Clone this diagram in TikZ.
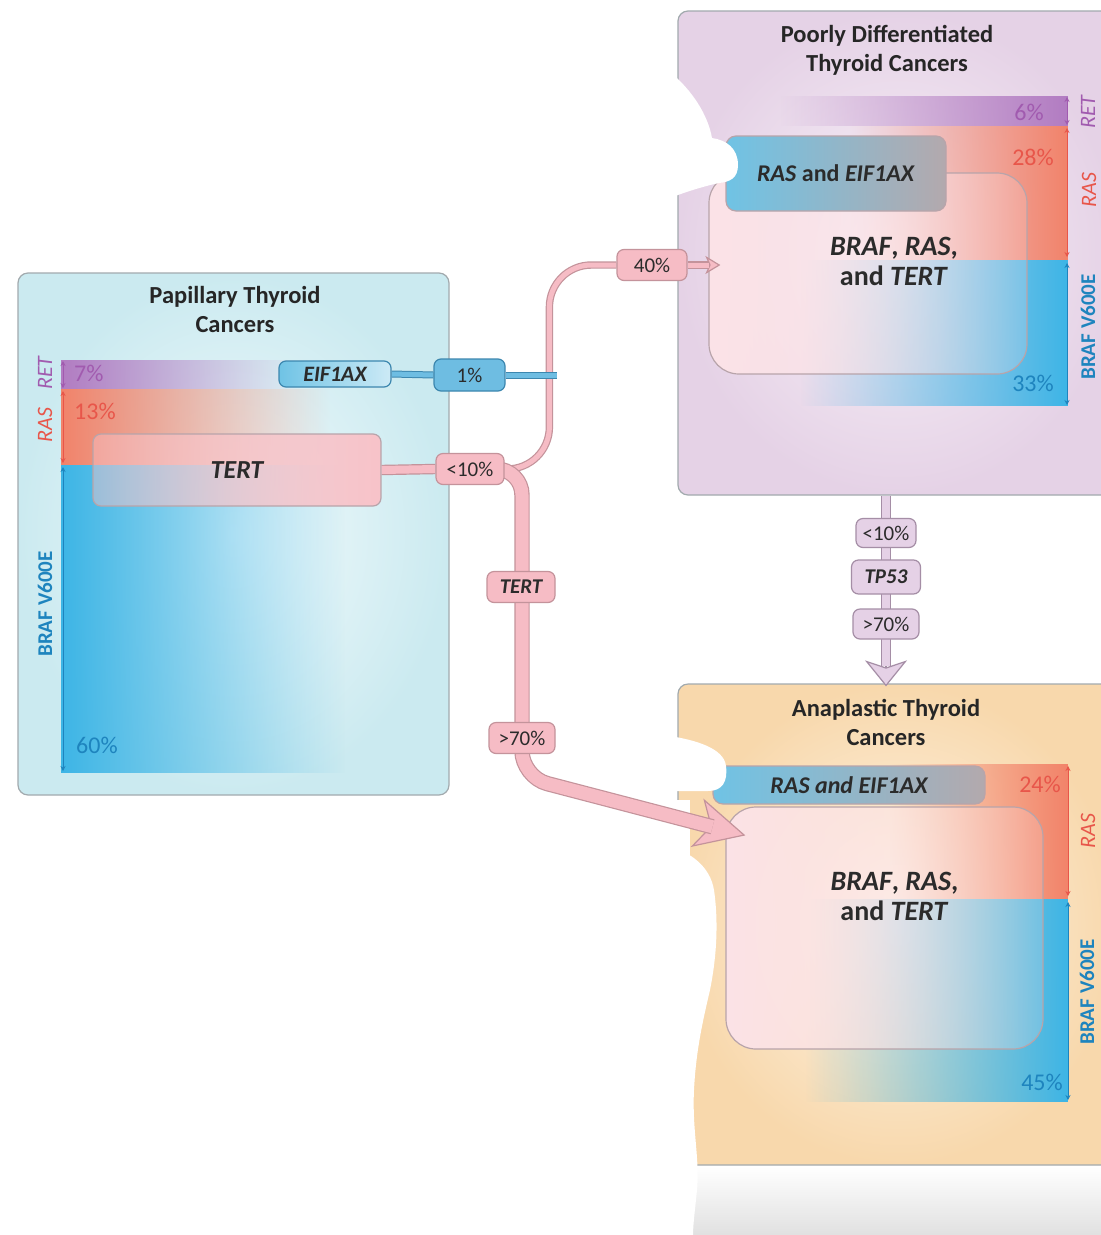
\documentclass[tikz,border=0pt]{standalone}
\usepackage{fontspec}
\setmainfont{Carlito}
\usetikzlibrary{arrows.meta,calc,fadings}

\pgfdeclarelayer{back}
\pgfdeclarelayer{conn}
\pgfsetlayers{back,conn,main}

\definecolor{boxLine}{HTML}{A2AAAE}
\definecolor{titleC}{HTML}{262626}
\definecolor{retC}{HTML}{B27CC2}
\definecolor{retT}{HTML}{A15BAF}
\definecolor{rasC}{HTML}{F2836A}
\definecolor{rasT}{HTML}{E8564A}
\definecolor{brafC}{HTML}{3DB5E6}
\definecolor{brafT}{HTML}{1E84BE}
\definecolor{pinkFill}{HTML}{F6BCC5}
\definecolor{pinkLine}{HTML}{C4939B}
\definecolor{purpFill}{HTML}{E5D1E6}
\definecolor{purpLine}{HTML}{A58EA6}
\definecolor{blueFill}{HTML}{6EBDE2}
\definecolor{blueLine}{HTML}{3C87AF}
\definecolor{coreC}{HTML}{FCE3E7}
\definecolor{coreLine}{HTML}{B8A4AA}
\definecolor{tertC}{HTML}{F8C3C9}
\definecolor{eifL}{HTML}{6FC3E5}
\definecolor{eifR}{HTML}{B3A9AD}
\definecolor{ptcIn}{HTML}{F4FBFC}
\definecolor{ptcOut}{HTML}{CBEAF0}
\definecolor{pdIn}{HTML}{F9F3F9}
\definecolor{pdOut}{HTML}{E5D2E6}
\definecolor{atIn}{HTML}{FEF6EA}
\definecolor{atOut}{HTML}{F8D8AC}
\definecolor{pillT}{HTML}{2B2B2B}

\tikzfading[name=fadeoutR, left color=transparent!0, right color=transparent!100]
\tikzfading[name=fadeinR, left color=transparent!100, right color=transparent!0]
\tikzfading[name=glassR, left color=transparent!0, right color=transparent!80]
\tikzfading[name=glassL, left color=transparent!55, right color=transparent!0]

\tikzset{
  bigbox/.style={draw=boxLine, line width=1.2pt, rounded corners=10pt, inner sep=0pt},
  corebox/.style={draw=coreLine, line width=1.2pt, rounded corners=30pt, inner sep=0pt,
    path picture={\fill[coreC, path fading=glassR] (path picture bounding box.south west) rectangle (path picture bounding box.north east);}},
  tertbox/.style={draw=coreLine, line width=1.2pt, rounded corners=8pt, inner sep=0pt, text=pillT,
    font=\fontsize{26}{26}\selectfont\bfseries\itshape,
    path picture={\fill[tertC, path fading=glassL] (path picture bounding box.south west) rectangle (path picture bounding box.north east);}},
  eifbox/.style={draw=coreLine, line width=1.2pt, rounded corners=10pt, left color=eifL, right color=eifR,
    text=pillT, font=\fontsize{24}{24}\selectfont\bfseries},
  coretxt/.style={align=center, text=pillT, font=\fontsize{28}{30}\selectfont\bfseries},
  title/.style={align=center, text=titleC, font=\fontsize{24.5}{29}\selectfont\bfseries},
  pct/.style={inner sep=0pt, font=\fontsize{24}{24}\selectfont},
  gene/.style={inner sep=0pt, rotate=90, font=\fontsize{22}{22}\selectfont\itshape},
  braflbl/.style={inner sep=0pt, rotate=90, text=brafT, font=\fontsize{21}{21}\selectfont\bfseries},
  span/.style={line width=1pt, {Stealth[length=5pt,width=5pt]}-{Stealth[length=5pt,width=5pt]}},
  pinkpill/.style={draw=pinkLine, fill=pinkFill, line width=1.2pt, rounded corners=7pt, minimum height=31pt,
    inner sep=2pt, text=pillT, font=\fontsize{21}{21}\selectfont},
  purppill/.style={pinkpill, draw=purpLine, fill=purpFill, minimum height=30pt},
  bluepill/.style={pinkpill, draw=blueLine, fill=blueFill, minimum height=32pt},
  eifpill/.style={pinkpill, draw=blueLine, left color=eifL, right color=eifL!35, minimum height=26pt,
    font=\fontsize{22}{22}\selectfont\bfseries\itshape},
  pinkconn/.style={draw=pinkLine, double=pinkFill, line width=1.2pt},
  purpconn/.style={draw=purpLine, double=purpFill, line width=1.2pt, double distance=8pt},
  blueconn/.style={draw=blueLine, double=blueFill, line width=1pt, double distance=5pt},
  pinktip/.style={draw=pinkLine, line width=1.2pt, -{Stealth[length=50pt,width=50pt,inset=14pt,fill=pinkFill]}},
  pinktipsm/.style={draw=pinkLine, line width=1.2pt, -{Stealth[length=15pt,width=18pt,inset=4pt,fill=pinkFill]}},
  purptip/.style={draw=purpLine, line width=1.2pt, -{Stealth[length=26pt,width=42pt,inset=7pt,fill=purpFill]}}
}

\begin{document}
\begin{tikzpicture}[x=1pt, y=-1pt]
\useasboundingbox (0,0) rectangle (1101,1235);

\begin{pgfonlayer}{back}
\fill[white] (0,0) rectangle (1101,1235);
\shade[top color=white, bottom color=black!12] (690,1166) rectangle (1101,1235);
% papillary
\node[bigbox, inner color=ptcIn, outer color=ptcOut, minimum width=431pt, minimum height=522pt] (ptc) at (233.5,534) {};
\fill[retC, path fading=fadeoutR] (61,360) rectangle (300,389);
\fill[rasC, path fading=fadeoutR] (61,389) rectangle (330,465);
\fill[brafC, path fading=fadeoutR] (61,465) rectangle (345,773);
\node[tertbox, minimum width=288pt, minimum height=72pt] (ptcTert) at (237,470) {TERT};
% poorly differentiated
\node[bigbox, inner color=pdIn, outer color=pdOut, minimum width=440pt, minimum height=484pt] (pdtc) at (898,253) {};
\fill[retC, path fading=fadeinR] (780,96) rectangle (1068,126);
\fill[rasC, path fading=fadeinR] (850,126) rectangle (1068,260);
\fill[brafC, path fading=fadeinR] (800,260) rectangle (1068,406);
\node[corebox, minimum width=318pt, minimum height=201pt] (pdCore) at (868,273.5) {};
\node[eifbox, minimum width=220pt, minimum height=75pt] (pdEif) at (836,173.5) {\textit{RAS} and \textit{EIF1AX}};
% anaplastic
\node[bigbox, inner color=atIn, outer color=atOut, minimum width=440pt, minimum height=481pt] (atc) at (898,924.5) {};
\fill[rasC, path fading=fadeinR] (890,764) rectangle (1068,899);
\fill[brafC, path fading=fadeinR] (805,899) rectangle (1068,1102);
\node[corebox, minimum width=317pt, minimum height=242pt] (atCore) at (884.5,928) {};
\node[eifbox, minimum width=272pt, minimum height=38pt] (atEif) at (849,785) {\itshape RAS and EIF1AX};
\end{pgfonlayer}

\node[title] (ptcTitle) at (235,309) {Papillary Thyroid\\Cancers};
\node[title] (pdTitle) at (887,50) {Poorly Differentiated\\Thyroid Cancers};
\node[title] (atTitle) at (886,722) {Anaplastic Thyroid\\Cancers};
\node[coretxt] (pdCoreTxt) at ($(pdCore.center)+(26,-12)$) {\textit{BRAF}, \textit{RAS},\\and \textit{TERT}};
\node[coretxt] (atCoreTxt) at ($(atCore.center)+(10,-32)$) {\textit{BRAF}, \textit{RAS},\\and \textit{TERT}};

\node[pct, text=retT, anchor=west] at (74,373) {7\%};
\node[pct, text=rasT, anchor=west] at (74,411) {13\%};
\node[pct, text=brafT, anchor=west] at (76,745) {60\%};
\node[gene, text=retT] at (45,373) {RET};
\node[gene, text=rasT] at (45,425) {RAS};
\node[braflbl] at (45,604) {BRAF V600E};
\draw[span, retT] (63,361) -- (63,388);
\draw[span, rasT] (63,391) -- (63,463);
\draw[span, brafT] (63,467) -- (63,771);

\node[pct, text=retT, anchor=east] at (1044,112) {6\%};
\node[pct, text=rasT, anchor=east] at (1054,157) {28\%};
\node[pct, text=brafT, anchor=east] at (1054,383) {33\%};
\node[gene, text=retT] at (1088,112) {RET};
\node[gene, text=rasT] at (1089,190) {RAS};
\node[braflbl] at (1088,327) {BRAF V600E};
\draw[span, retT] (1067,97) -- (1067,125);
\draw[span, rasT] (1067,128) -- (1067,257);
\draw[span, brafT] (1067,263) -- (1067,405);

\node[pct, text=rasT, anchor=east] at (1061,784) {24\%};
\node[pct, text=brafT, anchor=east] at (1063,1082) {45\%};
\node[gene, text=rasT] at (1088,831) {RAS};
\node[braflbl] at (1087,992) {BRAF V600E};
\draw[span, rasT] (1068,766) -- (1068,896);
\draw[span, brafT] (1068,902) -- (1068,1100);

\node[eifpill, minimum width=112pt] (ptcEif) at (335,374) {EIF1AX};
\node[bluepill, minimum width=71pt] (pEif) at (469.5,375) {1\%};
\node[pinkpill, minimum width=68pt] (pLt) at (470,469) {<10\%};
\node[pinkpill, minimum width=68pt, font=\fontsize{21}{21}\selectfont\bfseries\itshape] (pTert) at (521,587) {TERT};
\node[pinkpill, minimum width=66pt] (pGt) at (522,738) {>70\%};
\node[pinkpill, minimum width=70pt] (p40) at (652,265) {40\%};
\node[purppill, minimum width=60pt, minimum height=29pt] (vLt) at (886,533) {<10\%};
\node[purppill, minimum width=69pt, minimum height=34pt, font=\fontsize{21}{21}\selectfont\bfseries\itshape] (vTp) at (886,577) {TP53};
\node[purppill, minimum width=66pt] (vGt) at (886,624) {>70\%};

\coordinate (eifEnd) at (557,375);
\coordinate (upX) at ($(p40.west)+(-67,0)$);
\coordinate (bend) at ($(pGt.center)+(0,39)$);
\coordinate (atTip) at ($(atCore.north west)+(20,29)$);
\coordinate (pdTip) at ($(pdCore.west |- p40.east)+(12,0)$);
\coordinate (atTop) at ($(vGt.center |- atc.north)+(0,3)$);

\begin{pgfonlayer}{conn}
\fill[white] (670,72) .. controls (692,90) and (708,115) .. (712,138) .. controls (726,140) and (738,148) .. (738,165)
  .. controls (738,178) and (730,182) .. (719,183) .. controls (705,186) and (688,191) .. (670,198) -- cycle;
\fill[white] (670,736) .. controls (695,740) and (724,748) .. (726,766) .. controls (728,782) and (722,791) .. (708,791) -- (670,791) -- cycle;
\fill[white] (670,847) .. controls (690,852) and (710,866) .. (714,890) .. controls (719,925) and (716,960) .. (710,990)
  .. controls (703,1020) and (696,1050) .. (694,1090) .. controls (692,1130) and (700,1160) .. (697,1190)
  .. controls (695,1210) and (693,1225) .. (693,1235) -- (670,1235) -- cycle;
\fill[white] (0,800) rectangle (690,1235);

\draw[pinkconn, double distance=8pt] (ptcTert.east) -- (pLt.west);
\draw[pinkconn, double distance=5pt, rounded corners=42pt] (pLt.center) -| (upX) -- (p40.west);
\draw[pinktip] ($(atTip)!50pt!(bend)$) -- (atTip);
\draw[pinkconn, double distance=13pt, rounded corners=26pt] (pLt.center) -| (bend) -- ($(atTip)!34pt!(bend)$);
\draw[pinktipsm] ($(pdTip)+(-15,0)$) -- (pdTip);
\draw[pinkconn, double distance=5pt] (p40.east) -- ($(pdTip)+(-11,0)$);
\draw[blueconn] (ptcEif.east) -- (pEif.west);
\draw[blueconn] (pEif.east) -- (eifEnd);
\draw[purptip] ($(atTop)+(0,-26)$) -- (atTop);
\draw[purpconn] (vLt.center |- pdtc.south) -- ($(atTop)+(0,-20)$);
\end{pgfonlayer}
\end{tikzpicture}
\end{document}
